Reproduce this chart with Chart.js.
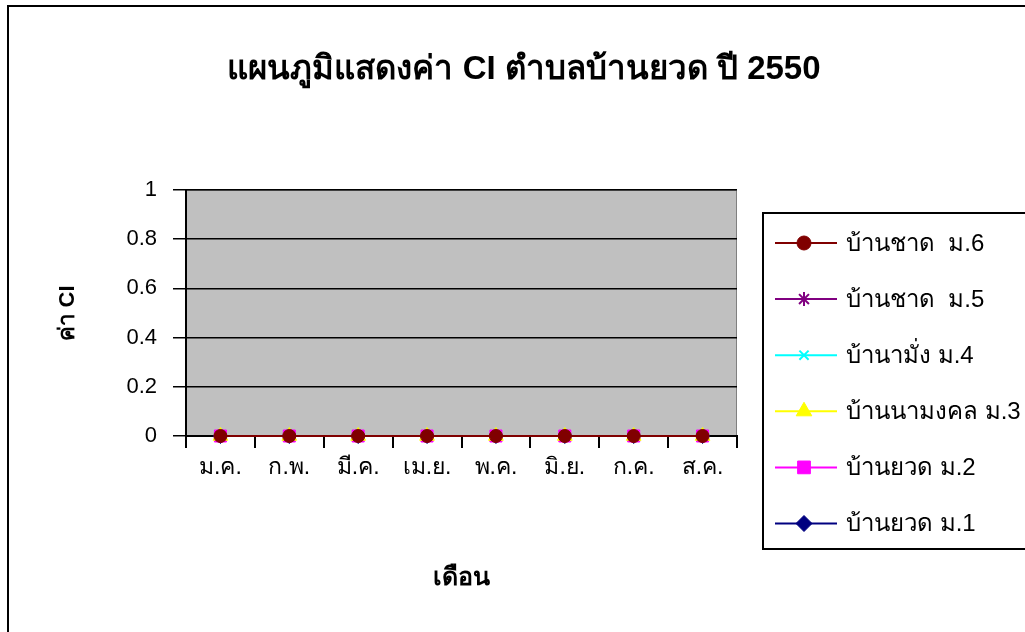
<!DOCTYPE html>
<html>
<head>
<meta charset="utf-8">
<script src="https://cdn.jsdelivr.net/npm/chart.js@4.4.0/dist/chart.umd.min.js"></script>
<style>
html,body{margin:0;padding:0;background:#fff;}
#wrap{width:1025px;height:632px;position:relative;}
</style>
</head>
<body>
<div id="wrap"><canvas id="c" width="1025" height="632"></canvas></div>
<script>
const chartTitle = 'แผนภูมิแสดงค่า CI ตำบลบ้านยวด ปี 2550';
const xTitle = 'เดือน';
const yTitle = 'ค่า CI';
const months = ['ม.ค.', 'ก.พ.', 'มี.ค.', 'เม.ย.', 'พ.ค.', 'มิ.ย.', 'ก.ค.', 'ส.ค.'];
const seriesNames = ['บ้านชาด  ม.6', 'บ้านชาด  ม.5', 'บ้านามั่ง ม.4', 'บ้านนามงคล ม.3', 'บ้านยวด ม.2', 'บ้านยวด ม.1'];
const moo6 = [0, 0, 0, 0, 0, 0, 0, 0];
const moo5 = [0, 0, 0, 0, 0, 0, 0, 0];
const moo4 = [0, 0, 0, 0, 0, 0, 0, 0];
const moo3 = [0, 0, 0, 0, 0, 0, 0, 0];
const moo2 = [0, 0, 0, 0, 0, 0, 0, 0];
const moo1 = [0, 0, 0, 0, 0, 0, 0, 0];
const yTicks = [0, 0.2, 0.4, 0.6, 0.8, 1];

const FONT = '"Liberation Sans", Arial, "Noto Sans", sans-serif';
const colors = ['#800000', '#800080', '#00FFFF', '#FFFF00', '#FF00FF', '#000080'];
const styles = ['circle', 'star', 'crossRot', 'triangle', 'rect', 'rectRot'];
const radii = [6.5, 6.5, 6, 8.5, 8.5, 7.5];
const values = [moo6, moo5, moo4, moo3, moo2, moo1];

const datasets = seriesNames.map((n, i) => ({
  label: n,
  data: values[i],
  borderColor: colors[i],
  backgroundColor: colors[i],
  borderWidth: 2,
  pointStyle: styles[i],
  pointRadius: radii[i],
  pointBorderWidth: (styles[i] === 'star' || styles[i] === 'crossRot') ? 2 : 1,
  pointBorderColor: colors[i],
  pointBackgroundColor: colors[i],
  tension: 0,
  clip: false
}));

const decor = {
  id: 'decor',
  beforeDraw(chart) {
    const {ctx, chartArea: a} = chart;
    ctx.save();
    ctx.fillStyle = '#fff';
    ctx.fillRect(0, 0, chart.width, chart.height);
    ctx.fillStyle = '#C0C0C0';
    ctx.fillRect(a.left, a.top, a.right - a.left, a.bottom - a.top);
    ctx.strokeStyle = '#808080';
    ctx.lineWidth = 1;
    ctx.strokeRect(a.left + 0.5, a.top + 0.5, a.right - a.left - 1, a.bottom - a.top - 1);
    ctx.restore();
  },
  afterDraw(chart) {
    const {ctx} = chart;
    ctx.save();
    // outer border
    ctx.strokeStyle = '#000';
    ctx.lineWidth = 2;
    ctx.strokeRect(8, 6, 1040, 660);
    // title
    ctx.fillStyle = '#000';
    ctx.font = 'bold 33px ' + FONT;
    ctx.textAlign = 'center';
    ctx.textBaseline = 'middle';
    ctx.fillText(chartTitle, 524, 70);
    // legend
    ctx.lineWidth = 2;
    ctx.strokeRect(763, 213, 300, 336);
    const rowY0 = 243, rowDy = 56.1;
    chart.data.datasets.forEach((ds, i) => {
      const y = rowY0 + i * rowDy;
      ctx.strokeStyle = ds.borderColor;
      ctx.lineWidth = 2;
      ctx.beginPath();
      ctx.moveTo(775, y);
      ctx.lineTo(837, y);
      ctx.stroke();
      ctx.fillStyle = ds.pointBackgroundColor;
      ctx.strokeStyle = ds.pointBorderColor;
      ctx.lineWidth = ds.pointBorderWidth;
      Chart.helpers.drawPoint(ctx, {pointStyle: ds.pointStyle, radius: ds.pointRadius + 0.5, rotation: 0, borderWidth: ds.pointBorderWidth}, 804, y);
      ctx.fillStyle = '#000';
      ctx.font = '24px ' + FONT;
      ctx.textAlign = 'left';
      ctx.textBaseline = 'middle';
      ctx.fillText(ds.label, 846, y + 1);
    });
    ctx.restore();
  }
};

new Chart(document.getElementById('c'), {
  type: 'line',
  data: {labels: months, datasets},
  plugins: [decor],
  options: {
    responsive: false,
    animation: false,
    layout: {padding: {top: 190, right: 288, left: 0, bottom: 0}},
    plugins: {legend: {display: false}, title: {display: false}, tooltip: {enabled: false}},
    scales: {
      x: {
        offset: true,
        grid: {offset: true, drawOnChartArea: false, color: '#000', lineWidth: 2, tickLength: 12, tickColor: '#000'},
        border: {display: true, color: '#000', width: 2},
        ticks: {color: '#000', font: {family: FONT, size: 23}, padding: 6, maxRotation: 0, autoSkip: false},
        title: {display: true, text: xTitle, color: '#000', font: {family: FONT, size: 25, weight: 'bold'}, padding: {top: 0, bottom: 39}},
        afterFit(s) { s.height = 196; }
      },
      y: {
        min: 0, max: 1,
        afterBuildTicks(s) { s.ticks = yTicks.map(v => ({value: v})); },
        grid: {color: '#000', lineWidth: 1.5, tickLength: 13, tickColor: '#000'},
        border: {display: true, color: '#000', width: 2},
        ticks: {color: '#000', font: {family: FONT, size: 22}, padding: 16, callback: v => String(v)},
        title: {display: true, text: yTitle, color: '#000', font: {family: FONT, size: 22, weight: 'bold'}, padding: {top: 55, bottom: 0}},
        afterFit(s) { s.width = 186; }
      }
    }
  }
});
</script>
</body>
</html>
